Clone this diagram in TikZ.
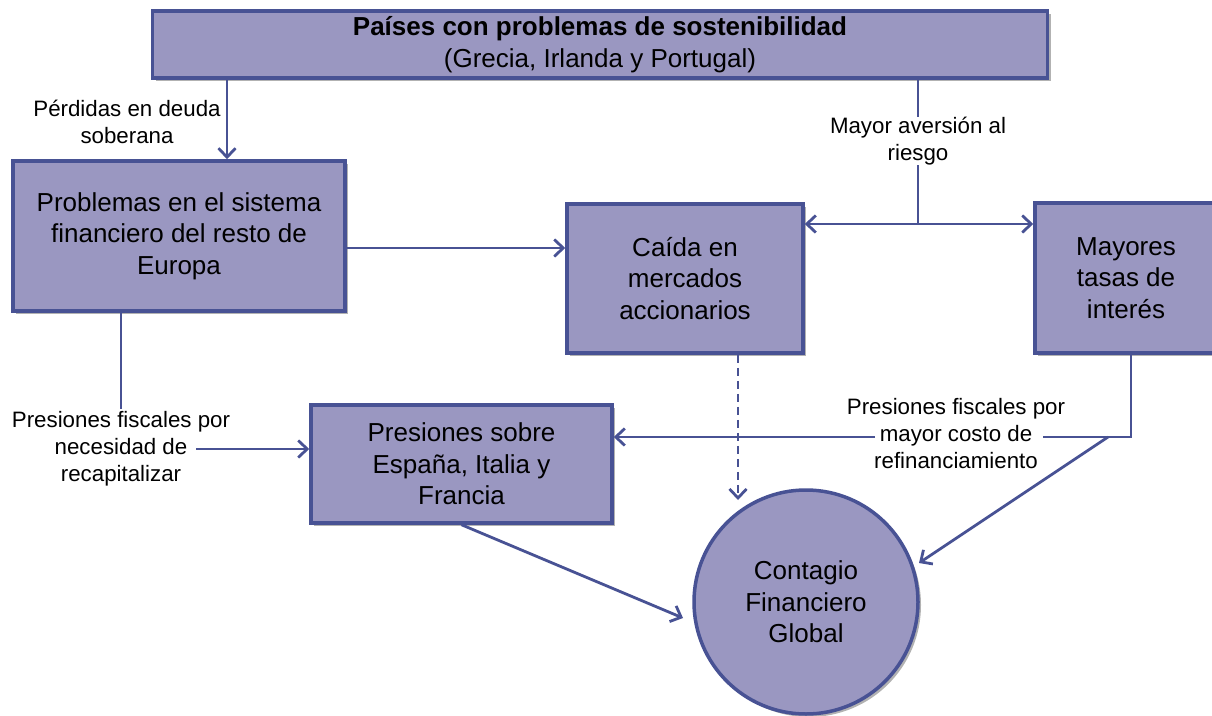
\documentclass[tikz,border=0pt]{standalone}
\usepackage{fontspec}
\setmainfont{Liberation Sans}
\usetikzlibrary{arrows.meta,shadows,calc}
\definecolor{boxfill}{RGB}{154,151,193}
\definecolor{boxline}{RGB}{72,82,148}
\begin{document}
\begin{tikzpicture}[x=1pt,y=-1pt,
  box/.style={draw=boxline, line width=3.5pt, fill=boxfill, align=center, inner sep=0pt,
    font=\fontsize{26}{31.5}\selectfont,
    drop shadow={shadow xshift=3pt, shadow yshift=-3pt, opacity=0.3, fill=black}},
  lbl/.style={align=center, inner sep=2pt, font=\fontsize{22.3}{27}\selectfont},
  plain/.style={draw=boxline, line width=2.8pt},
  conn/.style={plain, -{Straight Barb[length=9pt,width=17pt]}},
  conn2/.style={plain, {Straight Barb[length=9pt,width=17pt]}-{Straight Barb[length=9pt,width=17pt]}},
  dashline/.style={dash pattern=on 8pt off 5pt}]
\useasboundingbox (0,0) rectangle (1212,715);

% nodes
\node[box, minimum width=895pt, minimum height=67pt] (top) at (600,44.5)
  {\textbf{Países con problemas de sostenibilidad}\\(Grecia, Irlanda y Portugal)};
\node[box, minimum width=332pt, minimum height=150pt] (prob) at (179,236)
  {Problemas en el sistema\\financiero del resto de\\Europa};
\node[box, minimum width=236pt, minimum height=149pt] (caida) at (685,278.5)
  {Caída en\\mercados\\accionarios};
\node[box, minimum width=182pt, minimum height=150pt] (may) at (1126,278)
  {Mayores\\tasas de\\interés};
\node[box, minimum width=301pt, minimum height=118pt] (pres) at (461.5,464)
  {Presiones sobre\\España, Italia y\\Francia};
\node[box, circle, minimum size=224pt] (circ) at (806,602)
  {Contagio\\Financiero\\Global};

% labels
\node[lbl] (perd) at (127,122) {Pérdidas en deuda\\soberana};
\node[lbl, inner sep=0pt] (aver) at (918,141) {Mayor aversión al\\riesgo};
\node[lbl] (recap) at (121,449) {Presiones fiscales por\\necesidad de\\recapitalizar};
\node[lbl] (refin) at (956,434) {Presiones fiscales por\\mayor costo de\\refinanciamiento};

% helper coordinates
\coordinate (xA) at (227,0);
\coordinate (yB) at (0,248);
\coordinate (jn) at (918,224);
\coordinate (xL) at (121,0);
\coordinate (recapE) at (196,449);
\coordinate (dtip) at (738,500);
\coordinate (xM) at (1131,437);
\coordinate (rin) at (1043,437);
\coordinate (rout) at (875,437);
\coordinate (dj) at (1108,437);
\coordinate (ctipR) at (919,563);
\coordinate (ctipL) at (683,618);

% connectors
\draw[conn] (top.south -| xA) -- (prob.north -| xA);
\draw[conn] (prob.east |- yB) -- (caida.west |- yB);
\draw[plain] (top.south -| jn) -- (aver);
\draw[plain] (aver) -- (jn);
\draw[conn2] (caida.east |- jn) -- (may.west |- jn);
\draw[plain] (prob.south -| xL) -- (recap);
\draw[conn] (recapE) -- (pres.west |- recapE);
\draw[conn, dashline] (caida.south -| dtip) -- (dtip);
\draw[plain] (may.south -| xM) -- (xM) -- (rin);
\draw[conn] (rout) -- (pres.east |- rout);
\draw[conn] (dj) -- (ctipR);
\draw[conn] (pres.south) -- (ctipL);
\end{tikzpicture}
\end{document}
